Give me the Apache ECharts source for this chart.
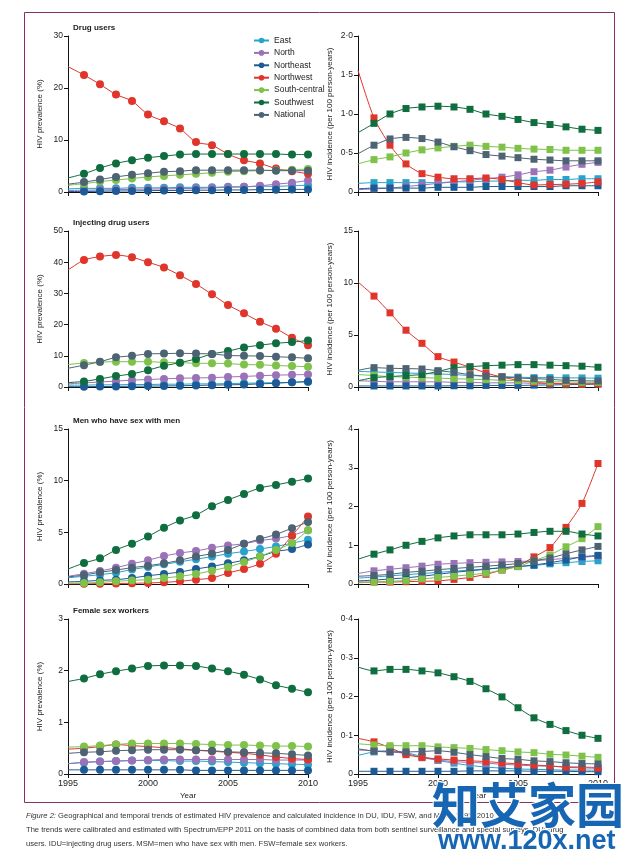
<!DOCTYPE html>
<html>
<head>
<meta charset="utf-8">
<script src="https://cdn.jsdelivr.net/npm/echarts@6/dist/echarts.min.js"></script>
<style>
html,body{margin:0;padding:0;background:#fff;}
#chart{width:637px;height:861px;}
</style>
</head>
<body>
<div id="chart"></div>
<script>
// ---------- DATA ----------
const years = [1995,1996,1997,1998,1999,2000,2001,2002,2003,2004,2005,2006,2007,2008,2009,2010];
const regions = ['East','North','Northeast','Northwest','South-central','Southwest','National'];

// Rows in region order: East, North, Northeast, Northwest, South-central, Southwest, National
const duPrevalence = [
  [0.6,0.7,0.7,0.7,0.8,0.8,0.8,0.9,0.9,0.9,1.0,1.0,1.1,1.1,1.2,1.3],
  [0.3,0.35,0.4,0.45,0.5,0.55,0.6,0.65,0.7,0.8,0.9,1.0,1.2,1.5,1.8,2.2],
  [0.1,0.1,0.15,0.2,0.2,0.25,0.3,0.3,0.35,0.35,0.4,0.4,0.45,0.45,0.5,0.5],
  [24.1,22.5,20.7,18.75,17.5,14.9,13.6,12.2,9.6,9.0,7.3,6.1,5.5,4.5,4.0,3.5],
  [1.3,1.6,2.0,2.3,2.6,2.9,3.1,3.3,3.5,3.7,3.9,4.0,4.1,4.2,4.3,4.4],
  [2.7,3.5,4.6,5.5,6.1,6.6,6.9,7.2,7.3,7.3,7.3,7.3,7.3,7.3,7.2,7.2],
  [1.5,1.9,2.4,2.9,3.3,3.6,3.9,4.0,4.2,4.2,4.2,4.2,4.2,4.1,4.1,4.1]
];
const duIncidence = [
  [0.11,0.12,0.12,0.12,0.12,0.12,0.13,0.13,0.14,0.14,0.15,0.15,0.16,0.16,0.17,0.17],
  [0.03,0.04,0.05,0.07,0.09,0.11,0.13,0.15,0.17,0.19,0.22,0.26,0.28,0.32,0.355,0.38],
  [0.04,0.05,0.05,0.05,0.05,0.06,0.06,0.06,0.07,0.07,0.07,0.07,0.07,0.08,0.08,0.08],
  [1.56,0.95,0.6,0.36,0.235,0.19,0.17,0.17,0.18,0.16,0.12,0.09,0.095,0.1,0.11,0.13],
  [0.36,0.415,0.45,0.5,0.54,0.565,0.585,0.6,0.585,0.575,0.56,0.55,0.545,0.535,0.535,0.535],
  [0.76,0.88,1.0,1.07,1.09,1.1,1.09,1.06,1.0,0.97,0.93,0.89,0.865,0.835,0.805,0.79],
  [0.49,0.6,0.68,0.7,0.685,0.64,0.58,0.53,0.48,0.46,0.44,0.42,0.41,0.4,0.4,0.4]
];
const iduPrevalence = [
  [0.6,0.6,0.7,0.7,0.8,0.8,0.9,0.9,1.0,1.0,1.1,1.2,1.3,1.4,1.5,1.6],
  [1.0,1.3,1.6,1.9,2.2,2.4,2.6,2.8,2.9,3.0,3.2,3.4,3.6,3.8,3.9,4.0],
  [0.1,0.1,0.15,0.2,0.25,0.3,0.35,0.4,0.5,0.6,0.7,0.8,1.0,1.2,1.5,1.8],
  [37.5,40.7,41.8,42.3,41.6,40.0,38.3,35.8,33.0,29.7,26.3,23.6,20.9,18.7,15.8,13.4],
  [7.2,7.7,8.0,8.1,8.1,8.1,7.9,7.8,7.6,7.6,7.5,7.2,7.1,6.9,6.7,6.5],
  [1.4,1.8,2.6,3.5,4.2,5.4,6.8,7.8,9.0,10.6,11.5,12.7,13.4,14.0,14.4,14.9],
  [6.0,7.0,8.1,9.5,10.0,10.6,10.7,10.8,10.7,10.6,10.1,10.0,9.9,9.7,9.5,9.2]
];
const iduIncidence = [
  [1.5,1.45,1.4,1.35,1.3,1.25,1.2,1.1,1.05,1.0,0.95,0.9,0.9,0.88,0.87,0.85],
  [0.6,0.55,0.5,0.5,0.5,0.5,0.45,0.45,0.4,0.4,0.4,0.35,0.35,0.35,0.3,0.3],
  [0.1,0.1,0.1,0.1,0.1,0.1,0.12,0.12,0.15,0.15,0.15,0.18,0.2,0.22,0.25,0.3],
  [10.1,8.74,7.13,5.46,4.2,2.92,2.4,1.9,1.35,0.95,0.65,0.45,0.35,0.3,0.28,0.3],
  [1.2,1.1,1.0,0.95,0.9,0.85,0.8,0.75,0.7,0.65,0.6,0.55,0.5,0.5,0.45,0.45],
  [0.6,0.9,1.0,1.1,1.2,1.5,1.85,1.95,2.05,2.1,2.15,2.15,2.1,2.05,2.0,1.9],
  [1.6,1.86,1.8,1.77,1.73,1.57,1.41,1.19,1.03,0.96,0.87,0.8,0.74,0.64,0.6,0.58]
];
const msmPrevalence = [
  [0.6,0.75,0.9,1.1,1.4,1.65,1.9,2.15,2.4,2.65,2.93,3.15,3.38,3.64,3.95,4.28],
  [0.74,1.0,1.26,1.58,1.96,2.3,2.7,3.0,3.2,3.5,3.73,3.9,4.2,4.4,4.7,5.2],
  [0.2,0.26,0.35,0.42,0.58,0.8,0.97,1.16,1.45,1.7,2.0,2.3,2.67,3.15,3.38,3.83],
  [0.0,0.02,0.03,0.05,0.07,0.1,0.16,0.26,0.42,0.58,1.06,1.45,1.96,2.93,4.67,6.53],
  [0.1,0.1,0.16,0.26,0.35,0.42,0.58,0.74,0.97,1.29,1.64,2.12,2.67,3.3,3.96,5.2],
  [1.45,2.03,2.48,3.3,3.9,4.6,5.44,6.15,6.66,7.53,8.14,8.72,9.3,9.59,9.9,10.2],
  [0.68,0.87,1.13,1.35,1.58,1.77,2.0,2.3,2.67,2.93,3.3,3.9,4.35,4.8,5.4,6.0]
];
const msmIncidence = [
  [0.15,0.18,0.21,0.24,0.27,0.3,0.33,0.36,0.39,0.42,0.45,0.48,0.52,0.55,0.58,0.6],
  [0.27,0.34,0.38,0.42,0.46,0.51,0.53,0.55,0.56,0.57,0.58,0.6,0.63,0.66,0.69,0.72],
  [0.08,0.1,0.13,0.16,0.2,0.25,0.3,0.34,0.38,0.42,0.45,0.49,0.55,0.62,0.7,0.74],
  [0.05,0.05,0.05,0.06,0.07,0.08,0.12,0.17,0.25,0.36,0.47,0.7,0.94,1.46,2.08,3.11],
  [0.03,0.05,0.07,0.09,0.13,0.17,0.2,0.24,0.28,0.36,0.45,0.6,0.75,0.96,1.17,1.48],
  [0.64,0.77,0.88,1.0,1.1,1.19,1.24,1.27,1.27,1.27,1.29,1.33,1.36,1.36,1.29,1.24],
  [0.2,0.22,0.25,0.3,0.33,0.37,0.4,0.43,0.46,0.49,0.53,0.6,0.67,0.78,0.88,0.97]
];
const fswPrevalence = [
  [0.2,0.22,0.24,0.25,0.26,0.26,0.26,0.25,0.25,0.24,0.23,0.22,0.21,0.2,0.19,0.18],
  [0.2,0.23,0.24,0.25,0.26,0.27,0.28,0.28,0.28,0.28,0.28,0.28,0.28,0.27,0.27,0.27],
  [0.08,0.08,0.08,0.08,0.08,0.08,0.08,0.08,0.07,0.07,0.07,0.07,0.07,0.07,0.07,0.07],
  [0.48,0.5,0.53,0.57,0.55,0.53,0.51,0.49,0.46,0.44,0.42,0.4,0.37,0.33,0.3,0.28],
  [0.52,0.53,0.55,0.57,0.59,0.59,0.59,0.59,0.58,0.57,0.56,0.56,0.55,0.54,0.54,0.53],
  [1.79,1.85,1.93,1.99,2.04,2.09,2.1,2.1,2.09,2.04,1.99,1.92,1.83,1.72,1.65,1.58],
  [0.4,0.42,0.43,0.45,0.46,0.47,0.47,0.47,0.46,0.45,0.43,0.42,0.41,0.4,0.38,0.36]
];
const fswIncidence = [
  [0.048,0.057,0.06,0.055,0.045,0.035,0.028,0.022,0.018,0.015,0.013,0.012,0.011,0.01,0.01,0.01],
  [0.062,0.06,0.057,0.053,0.042,0.036,0.032,0.03,0.028,0.025,0.023,0.021,0.02,0.019,0.018,0.017],
  [0.007,0.007,0.007,0.007,0.007,0.007,0.007,0.008,0.008,0.008,0.008,0.007,0.007,0.007,0.006,0.006],
  [0.092,0.083,0.068,0.05,0.043,0.039,0.036,0.034,0.032,0.029,0.026,0.023,0.021,0.017,0.016,0.015],
  [0.078,0.075,0.073,0.073,0.073,0.07,0.068,0.066,0.063,0.06,0.057,0.055,0.051,0.049,0.046,0.043],
  [0.276,0.266,0.27,0.27,0.266,0.261,0.251,0.239,0.22,0.199,0.171,0.145,0.128,0.112,0.1,0.092],
  [0.065,0.059,0.057,0.057,0.058,0.06,0.056,0.05,0.045,0.04,0.038,0.034,0.032,0.029,0.027,0.026]
];

const panelTitles = ['Drug users','Injecting drug users','Men who have sex with men','Female sex workers'];
const yMaxPrev = [30, 50, 15, 3];
const yStepPrev = [10, 10, 5, 1];
const yMaxInc = [2.0, 15, 4, 0.4];
const yStepInc = [0.5, 5, 1, 0.1];

// ---------- STYLE ----------
const colors = ['#27a3cc','#9a72b8','#1d5b96','#e0352b','#7ec24a','#0f6d3f','#4d6373'];
const FONT = 'Liberation Sans, Arial, sans-serif';
const rowTops = [36, 231, 429, 619];
const rowHeights = [156, 156, 155, 155];
const colLefts = [68, 358];
const plotWidth = 240;

const prevPanels = [duPrevalence, iduPrevalence, msmPrevalence, fswPrevalence];
const incPanels = [duIncidence, iduIncidence, msmIncidence, fswIncidence];

function fmtDot(v){ return v === 0 ? '0' : (Number.isInteger(v) ? String(v) : v.toFixed(1).replace('.', '\u00B7')); }
function fmtDot1(v){ return v === 0 ? '0' : v.toFixed(1).replace('.', '\u00B7'); }

const grids = [], xAxes = [], yAxes = [], series = [], titles = [];
let gi = 0;
for (let r = 0; r < 4; r++) {
  for (let c = 0; c < 2; c++) {
    grids.push({left: colLefts[c], top: rowTops[r], width: plotWidth, height: rowHeights[r], containLabel: false});
    const bottom = r === 3;
    xAxes.push({
      type: 'value', gridIndex: gi, min: 1995, max: 2010, interval: 5,
      axisLine: {show: true, onZero: false, lineStyle: {color: '#111', width: 1}},
      axisTick: {show: true, length: 4, lineStyle: {color: '#111', width: 1}},
      axisLabel: {show: bottom, fontSize: 9, color: '#222', fontFamily: FONT, margin: 5,
        formatter: v => String(v)},
      splitLine: {show: false},
      name: bottom ? 'Year' : '', nameLocation: 'middle', nameGap: 18,
      nameTextStyle: {fontSize: 8, color: '#222', fontFamily: FONT}
    });
    const isInc = c === 1;
    yAxes.push({
      type: 'value', gridIndex: gi, min: 0,
      max: isInc ? yMaxInc[r] : yMaxPrev[r],
      interval: isInc ? yStepInc[r] : yStepPrev[r],
      axisLine: {show: true, lineStyle: {color: '#111', width: 1}},
      axisTick: {show: true, length: 4, lineStyle: {color: '#111', width: 1}},
      axisLabel: {fontSize: 8.5, color: '#222', fontFamily: FONT, margin: 5,
        formatter: (isInc && (r === 0 || r === 3)) ? fmtDot1 : fmtDot},
      splitLine: {show: false},
      name: isInc ? 'HIV incidence (per 100 person-years)' : 'HIV prevalence (%)',
      nameLocation: 'middle', nameGap: 24,
      nameTextStyle: {fontSize: 8, color: '#222', fontFamily: FONT}
    });
    const panel = isInc ? incPanels[r] : prevPanels[r];
    for (let s = 0; s < regions.length; s++) {
      series.push({
        type: 'line', name: regions[s], xAxisIndex: gi, yAxisIndex: gi,
        data: years.map((y, k) => [y, panel[s][k]]),
        symbol: isInc ? 'rect' : 'circle',
        symbolSize: (val, p) => p.dataIndex === 0 ? 0 : (isInc ? 7 : 8),
        showAllSymbol: true,
        smooth: 0.25,
        lineStyle: {color: colors[s], width: 1},
        itemStyle: {color: colors[s]},
        emphasis: {disabled: true},
        animation: false
      });
    }
    gi++;
  }
  titles.push({text: panelTitles[r], left: 68, top: rowTops[r] - 17,
    textStyle: {fontSize: 8, fontWeight: 'bold', color: '#222', fontFamily: FONT}});
}

const captionStyle = {fontSize: 7.6, fill: '#333', fontFamily: FONT};
const chart = echarts.init(document.getElementById('chart'), null, {renderer: 'canvas'});
chart.setOption({
  backgroundColor: '#fff',
  animation: false,
  title: titles,
  legend: {
    data: regions, orient: 'vertical', left: 248, top: 31,
    itemWidth: 15, itemHeight: 7, itemGap: 3.4,
    textStyle: {fontSize: 8.5, color: '#222', fontFamily: FONT},
    selectedMode: false
  },
  grid: grids, xAxis: xAxes, yAxis: yAxes, series: series,
  graphic: [
    {type: 'rect', shape: {x: 24.5, y: 12.5, width: 590, height: 790},
      style: {fill: 'none', stroke: '#8a2f62', lineWidth: 1}, z: 0, silent: true},
    {type: 'text', left: 26, top: 812, style: Object.assign({}, captionStyle, {
      text: '{i|Figure 2:} Geographical and temporal trends of estimated HIV prevalence and calculated incidence in DU, IDU, FSW, and MSM, 1995\u20132010',
      rich: {i: {fontStyle: 'italic', fontSize: 7.6, fontFamily: FONT, fill: '#333'}}})},
    {type: 'text', left: 26, top: 826, style: Object.assign({}, captionStyle, {
      text: 'The trends were calibrated and estimated with Spectrum/EPP 2011 on the basis of combined data from both sentinel surveillance and special surveys. DU=drug'})},
    {type: 'text', left: 26, top: 840, style: Object.assign({}, captionStyle, {
      text: 'users. IDU=injecting drug users. MSM=men who have sex with men. FSW=female sex workers.'})},
    {type: 'text', left: 431, top: 780, z: 100, style: {text: '知艾家园', fontSize: 48, fontWeight: 'bold',
      fill: '#1766b4', stroke: '#ffffff', lineWidth: 2, fontFamily: 'Noto Sans CJK SC, sans-serif'}},
    {type: 'text', left: 437, top: 827, z: 100, style: {text: 'www.120x.net', fontSize: 27, fontWeight: 'bold',
      fill: '#1766b4', stroke: '#ffffff', lineWidth: 2, fontFamily: 'Liberation Sans, Arial, sans-serif'}}
  ]
});
</script>
</body>
</html>
